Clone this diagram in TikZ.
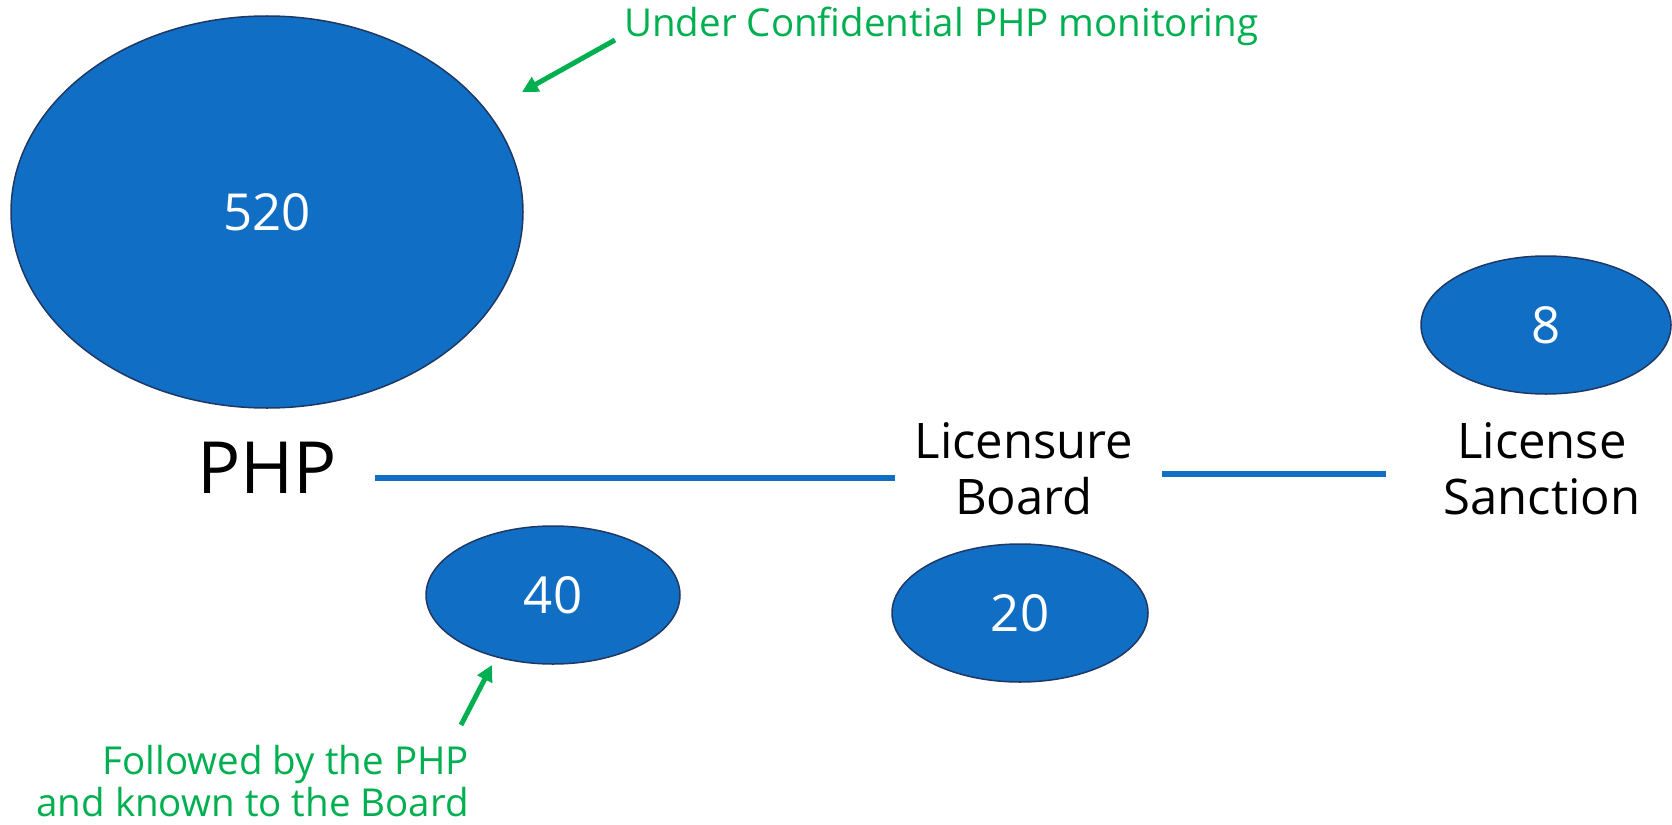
\documentclass[tikz,border=0pt]{standalone}
\usepackage{fontspec}
\setmainfont{Open Sans}
\usetikzlibrary{shapes.geometric,arrows.meta}
\definecolor{bubble}{RGB}{16,110,196}
\definecolor{bubbleedge}{RGB}{32,56,100}
\definecolor{note}{RGB}{0,176,80}
\tikzset{
  bubblenode/.style={ellipse, draw=bubbleedge, line width=1.5pt, fill=bubble,
    text=white, inner sep=0pt, font=\fontsize{51}{55}\selectfont},
  stage/.style={text=black, align=center, inner sep=0pt},
  link/.style={draw=bubble, line width=6.5pt},
  notetext/.style={text=note, inner sep=0pt, font=\fontsize{38.5}{42}\selectfont},
  pointer/.style={draw=note, line width=5pt, -{Triangle[length=16pt,width=16pt]}}
}
\begin{document}
\begin{tikzpicture}[x=1pt,y=-1pt]
\useasboundingbox (0,0) rectangle (1672,824);

% counts
\node[bubblenode, minimum width=512pt, minimum height=392pt] (big) at (267,212) {520};
\node[bubblenode, minimum width=254pt, minimum height=138pt] (php) at (553,595) {40};
\node[bubblenode, minimum width=256pt, minimum height=138pt] (board) at (1020,613) {20};
\node[bubblenode, minimum width=250pt, minimum height=138pt] (sanc) at (1546,325) {8};

% stages
\node[stage, font=\fontsize{72}{76}\selectfont] (phpl) at (267,468) {PHP};
\node[stage, font=\fontsize{49}{56}\selectfont] (boardl) at (1024,469) {Licensure\\Board};
\node[stage, font=\fontsize{49}{56}\selectfont] (sancl) at (1542,469) {License\\Sanction};

\coordinate (l1a) at (375,478);
\coordinate (l1b) at (895,478);
\coordinate (l2a) at (1162,474);
\coordinate (l2b) at (1386,474);
\draw[link] (l1a) -- (l1b);
\draw[link] (l2a) -- (l2b);

% notes
\node[notetext, anchor=west] (top) at (624,26) {Under Confidential PHP monitoring};
\coordinate (topstart) at (615,40);
\coordinate (topend) at (522,92);
\draw[pointer] (topstart) -- (topend);

\node[notetext, align=right, anchor=north east] (bottom) at (469,745) {Followed by the PHP\\and known to the Board};
\coordinate (botstart) at (461,725);
\coordinate (botend) at (492,665);
\draw[pointer] (botstart) -- (botend);
\end{tikzpicture}
\end{document}
